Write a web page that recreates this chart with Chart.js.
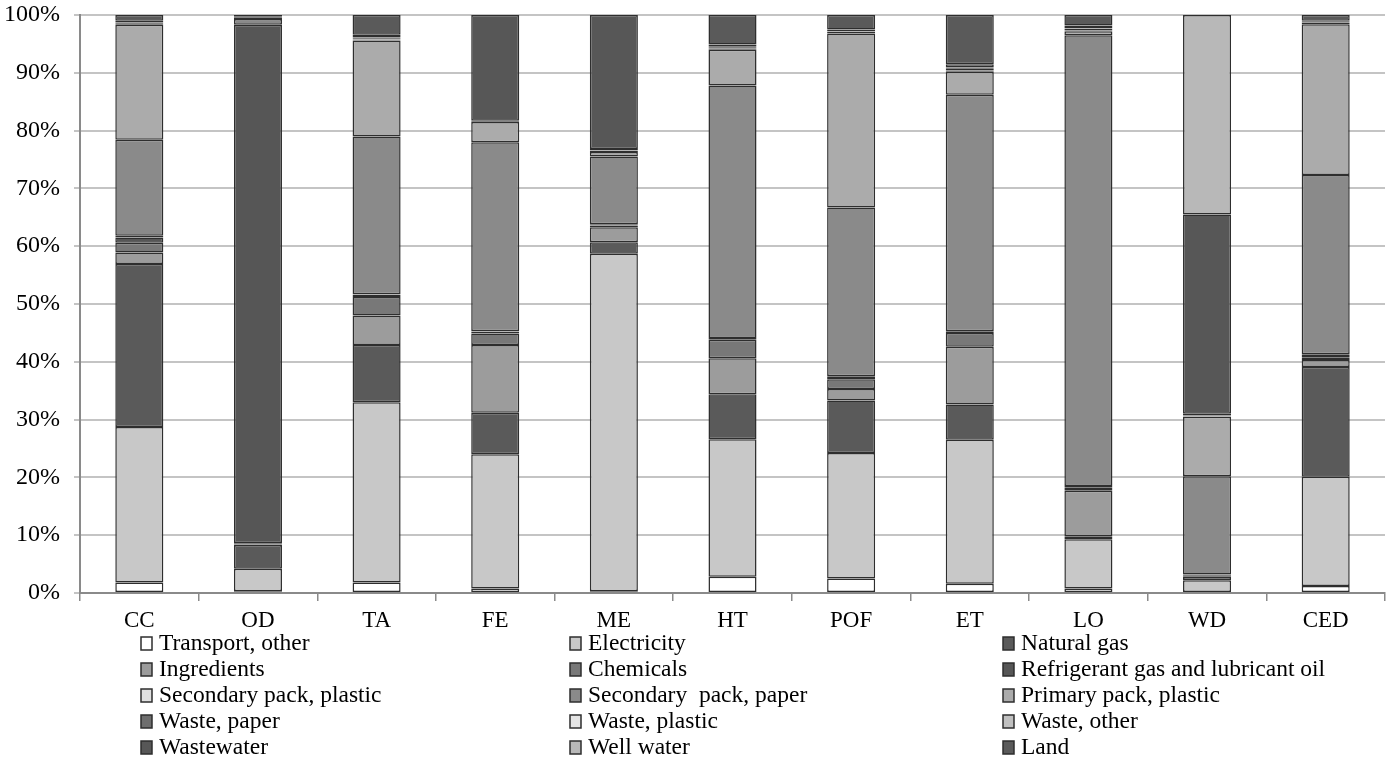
<!DOCTYPE html>
<html>
<head>
<meta charset="utf-8">
<script src="https://cdn.jsdelivr.net/npm/chart.js@4/dist/chart.umd.min.js"></script>
<style>
html,body{margin:0;padding:0;background:#fff;}
canvas{display:block;}
</style>
</head>
<body>
<canvas id="c" width="1389" height="760"></canvas>
<script>
const categories = ["CC","OD","TA","FE","ME","HT","POF","ET","LO","WD","CED"];
const seriesNames = ["Transport, other","Electricity","Natural gas","Ingredients","Chemicals","Refrigerant gas and lubricant oil","Secondary pack, plastic","Secondary  pack, paper","Primary pack, plastic","Waste, paper","Waste, plastic","Waste, other","Wastewater","Well water","Land"];
const seriesColors = ["#ffffff","#c8c8c8","#5a5a5a","#9c9c9c","#787878","#565656","#e0e0e0","#8a8a8a","#ababab","#6e6e6e","#e4e4e4","#c0c0c0","#575757","#b8b8b8","#5a5a5a"];
const yTicks = [0,10,20,30,40,50,60,70,80,90,100];

// values (%) per series, in category order
const transportOther = [1.8, 0.3, 1.8, 0.8, 0.3, 2.8, 2.5, 1.6, 0.8, 0.0, 1.2];
const electricity    = [26.9, 3.9, 31.2, 23.2, 58.4, 23.8, 21.7, 24.9, 8.5, 2.2, 18.9];
const naturalGas     = [28.2, 4.1, 9.9, 7.2, 2.0, 7.8, 9.1, 6.1, 0.5, 0.6, 19.0];
const ingredients    = [2.0, 0.1, 5.1, 11.7, 2.6, 6.2, 2.0, 10.0, 7.9, 0.2, 1.2];
const chemicals      = [1.7, 0.2, 3.2, 2.0, 0.3, 3.2, 1.7, 2.4, 0.5, 0.1, 0.5];
const refrigerant    = [0.9, 89.7, 0.4, 0.3, 0.2, 0.3, 0.5, 0.3, 0.3, 0.1, 0.5];
const secPackPlastic = [0.3, 0.0, 0.1, 0.1, 0.0, 0.0, 0.0, 0.0, 0.0, 0.0, 0.0];
const secPackPaper   = [16.6, 1.0, 27.3, 32.7, 11.7, 43.7, 29.2, 40.9, 78.0, 17.0, 31.0];
const primPackPlastic= [19.9, 0.3, 16.6, 3.5, 0.8, 6.2, 30.1, 4.0, 0.7, 10.3, 26.1];
const wastePaper     = [0.2, 0.0, 0.1, 0.1, 0.2, 0.2, 0.1, 0.2, 0.1, 0.1, 0.2];
const wastePlastic   = [0.1, 0.0, 0.1, 0.05, 0.1, 0.1, 0.2, 0.1, 0.1, 0.1, 0.1];
const wasteOther     = [0.1, 0.0, 0.1, 0.05, 0.2, 0.1, 0.1, 0.2, 0.2, 0.3, 0.1];
const wastewater     = [0.3, 0.1, 0.2, 18.3, 23.2, 0.2, 0.2, 0.2, 0.1, 34.5, 0.1];
const wellWater      = [0.0, 0.0, 0.5, 0.0, 0.0, 0.3, 0.1, 0.6, 0.5, 34.5, 0.1];
const land           = [1.0, 0.3, 3.4, 0.0, 0.0, 5.1, 2.5, 8.5, 1.8, 0.0, 1.0];

const seriesValues = [transportOther, electricity, naturalGas, ingredients, chemicals, refrigerant,
  secPackPlastic, secPackPaper, primPackPlastic, wastePaper, wastePlastic, wasteOther,
  wastewater, wellWater, land];

const FONT = "'Liberation Serif', 'Times New Roman', serif";

const datasets = seriesNames.map((name, i) => ({
  label: name,
  data: seriesValues[i],
  backgroundColor: seriesColors[i],
  borderColor: "#2e2e2e",
  borderWidth: 1.5,
  borderSkipped: false,
  barPercentage: 0.405,
  categoryPercentage: 1.0
}));

const gridLegend = {
  id: "gridLegend",
  afterDraw(chart) {
    const ctx = chart.ctx;
    const colX = [141, 570, 1003];
    const row0 = 643, rowStep = 26;
    ctx.save();
    ctx.font = "23.5px " + FONT;
    ctx.textBaseline = "middle";
    ctx.textAlign = "left";
    chart.data.datasets.forEach((ds, i) => {
      const r = Math.floor(i / 3), c = i % 3;
      const x = colX[c], y = row0 + r * rowStep;
      ctx.fillStyle = ds.backgroundColor;
      ctx.fillRect(x, y - 6, 11, 13);
      ctx.strokeStyle = "#2e2e2e";
      ctx.lineWidth = 1.5;
      ctx.strokeRect(x, y - 6, 11, 13);
      ctx.fillStyle = "#000";
      ctx.fillText(ds.label, x + 18, y + 1);
    });
    ctx.restore();
  }
};

new Chart(document.getElementById("c"), {
  type: "bar",
  data: { labels: categories, datasets },
  plugins: [gridLegend],
  options: {
    responsive: false,
    animation: false,
    layout: { padding: { top: 15, right: 4, left: 0, bottom: 0 } },
    plugins: { legend: { display: false }, tooltip: { enabled: false } },
    scales: {
      x: {
        stacked: true,
        grid: { display: true, offset: true, drawOnChartArea: false, drawTicks: true, tickLength: 8, color: "#8a8a8a", lineWidth: 1.5 },
        border: { display: true, color: "#8a8a8a", width: 2 },
        ticks: { color: "#000", font: { family: FONT, size: 23 }, padding: 6 },
        afterFit(s) { s.height = 167; s.paddingLeft = 0; s.paddingRight = 0; }
      },
      y: {
        stacked: true,
        min: 0, max: 100,
        afterBuildTicks(s) { s.ticks = yTicks.map(v => ({ value: v })); },
        grid: { color: "#c4c4c4", lineWidth: 2, drawTicks: true, tickLength: 6 },
        border: { display: true, color: "#8a8a8a", width: 2 },
        ticks: { color: "#000", font: { family: FONT, size: 24 }, padding: 14, callback: v => v + "%" },
        afterFit(s) { s.width = 80; s.paddingTop = 0; s.paddingBottom = 0; }
      }
    }
  }
});
</script>
</body>
</html>
